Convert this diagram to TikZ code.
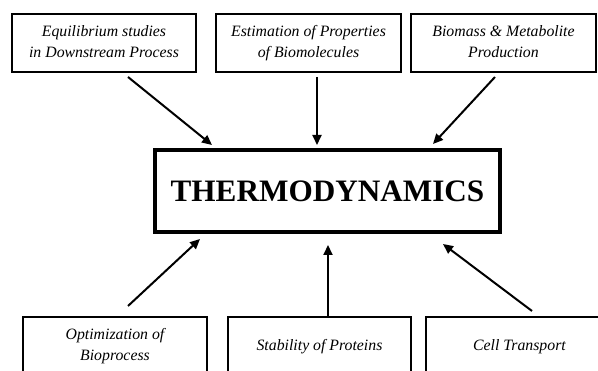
\documentclass[tikz,border=0pt]{standalone}
\usepackage{fontspec}
\setmainfont{Liberation Serif}
\usetikzlibrary{arrows.meta}
\begin{document}
\begin{tikzpicture}[x=1pt,y=1pt,
  smallbox/.style={draw=black,line width=1.5pt,rectangle,minimum height=58pt,inner sep=0pt,
    align=center,font=\fontsize{15.8}{20.5}\selectfont\itshape},
  mainbox/.style={draw=black,line width=4pt,rectangle,minimum width=345pt,minimum height=82pt,inner sep=0pt,
    font=\fontsize{31.2}{36}\selectfont\bfseries},
  arr/.style={line width=2pt,-{Triangle[length=10pt,width=9pt]}}]
\useasboundingbox (0,0) rectangle (598,371);
\fill[white] (0,0) rectangle (598,371);
% top boxes
\node[smallbox,minimum width=184pt] (t1) at (104,328) {\strut Equilibrium studies\\\strut in Downstream Process};
\node[smallbox,minimum width=185pt] (t2) at (308.5,328) {\strut Estimation of Properties\\\strut of Biomolecules};
\node[smallbox,minimum width=185pt] (t3) at (503.5,328) {\strut Biomass \& Metabolite\\\strut Production};
% centre
\node[mainbox] (th) at (327.5,180) {THERMODYNAMICS};
% bottom boxes
\node[smallbox,minimum width=184pt] (b1) at (115,25) {\strut Optimization of\\\strut Bioprocess};
\node[smallbox,minimum width=183pt] (b2) at (319.5,25) {\strut Stability of Proteins};
\node[smallbox,minimum width=187pt] (b3) at (519.5,25) {\strut Cell Transport};
% arrow end points
\coordinate (a1s) at (128,294); \coordinate (a1e) at (212,226);
\coordinate (a2s) at (317,294); \coordinate (a2e) at (317,226);
\coordinate (a3s) at (495,294); \coordinate (a3e) at (433,227);
\coordinate (c1s) at (128,65);  \coordinate (c1e) at (200,132);
\coordinate (c2e) at (328,126);
\coordinate (c3s) at (532,60);  \coordinate (c3e) at (443,127);
\draw[arr] (a1s) -- (a1e);
\draw[arr] (a2s) -- (a2e);
\draw[arr] (a3s) -- (a3e);
\draw[arr] (c1s) -- (c1e);
\draw[arr] (b2.north -| c2e) -- (c2e);
\draw[arr] (c3s) -- (c3e);
\end{tikzpicture}
\end{document}
